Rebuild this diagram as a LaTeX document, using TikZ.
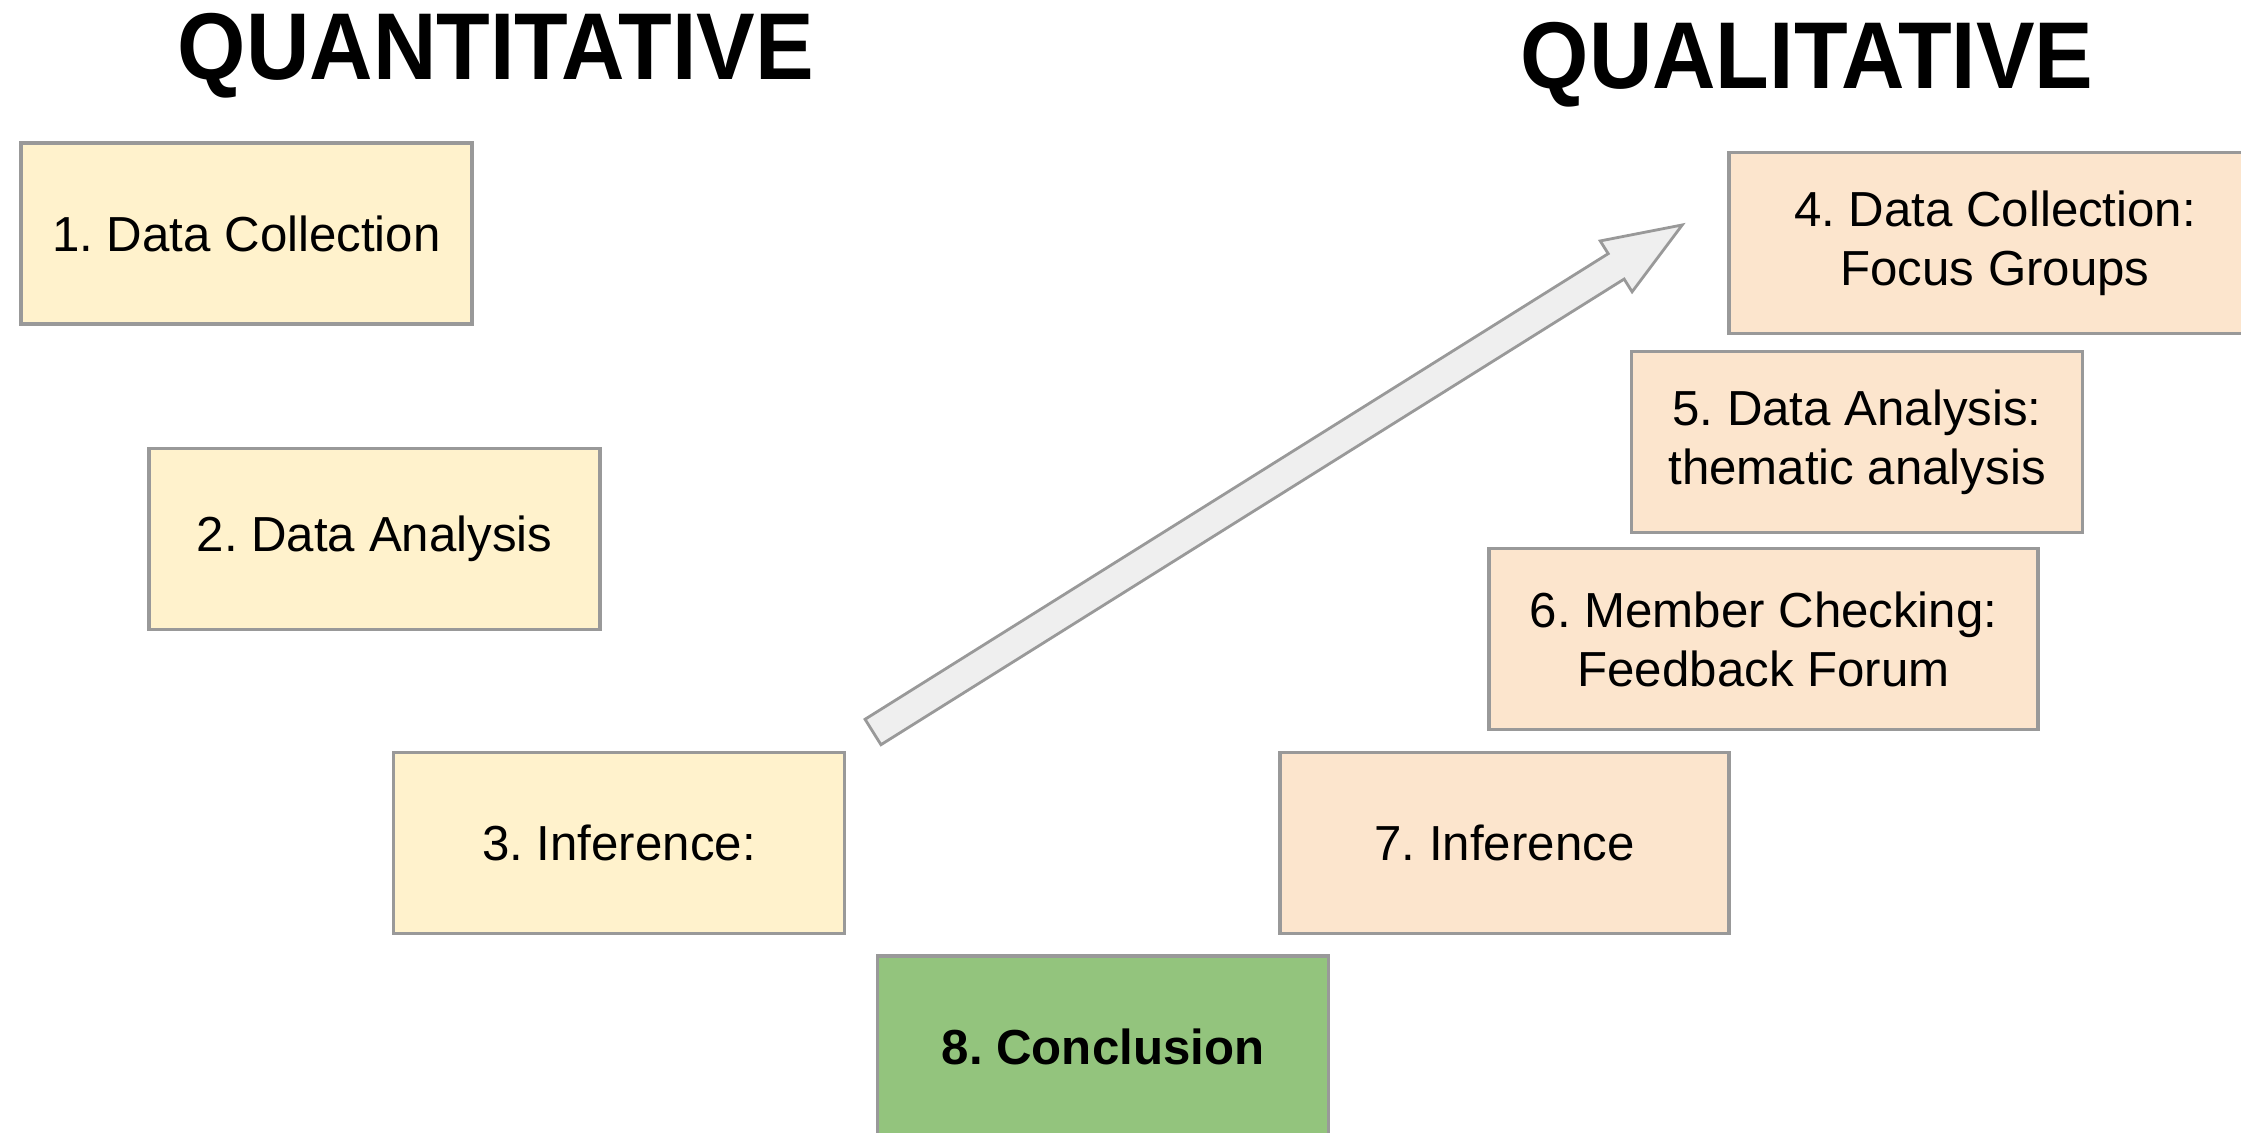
\documentclass[tikz,border=0pt]{standalone}
\usepackage{fontspec}
\setmainfont{Liberation Sans}
\usepackage{xcolor}
\usetikzlibrary{positioning, calc}
\frenchspacing

\definecolor{quantfill}{HTML}{FFF2CC}
\definecolor{qualfill}{HTML}{FCE5CD}
\definecolor{endfill}{HTML}{93C47D}
\definecolor{boxline}{HTML}{999999}
\definecolor{arrowfill}{HTML}{EFEFEF}

\begin{document}
\begin{tikzpicture}[
    stage/.style={draw=boxline, line width=0.9pt, minimum width=4.51cm,
                  minimum height=1.81cm, align=center, inner sep=0pt,
                  font=\fontsize{14}{16.8}\selectfont},
    quant/.style={stage, fill=quantfill},
    qual/.style={stage, fill=qualfill},
    heading/.style={font=\fontsize{25}{30}\selectfont\bfseries, anchor=base,
                    inner sep=0pt, yscale=1.08}
]
  \useasboundingbox (0,0) rectangle (22.41,11.32);
  \clip (0,0) rectangle (22.41,11.32);

  % column headings
  \node[heading] (quanttitle) at (4.96, 10.52) {QUANTITATIVE};
  \node[heading] (qualtitle)  at (18.07, 10.43) {QUALITATIVE};

  % quantitative steps, stepping down to the right
  \foreach \t/\x/\y [count=\i] in {1. Data Collection/2.465/8.985,
                                   2. Data Analysis/3.745/5.93,
                                   3. Inference:/6.19/2.89} {
    \node[quant] (quant\i) at (\x, \y) {\t};
  }

  % qualitative steps
  \node[qual, minimum width=5.32cm] (qual4) at (19.95, 8.89)
       {4. Data Collection:\\Focus Groups};
  \node[qual] (qual5) at (18.57, 6.90)
       {5. Data Analysis:\\thematic analysis};
  \node[qual, minimum width=5.49cm] (qual6) at (17.635, 4.93)
       {6. Member Checking:\\Feedback Forum};
  \node[qual, minimum width=4.49cm] (qual7) at (15.045, 2.89) {7. Inference};

  \node[stage, fill=endfill, font=\fontsize{14}{16.8}\selectfont\bfseries]
       (concl) at (11.03, 0.855) {8. Conclusion};

  % block arrow from quantitative to qualitative
  \coordinate (tail) at (8.73, 4.00);
  \coordinate (tip) at (16.82, 9.07);
  \begin{scope}[shift={(tail)}, rotate=32.07]
    \draw[draw=boxline, fill=arrowfill, line width=0.8pt, line join=miter]
      (0,-0.15) -- (8.77,-0.15) -- (8.77,-0.3) -- (9.55,0)
      -- (8.77,0.3) -- (8.77,0.15) -- (0,0.15) -- cycle;
  \end{scope}
\end{tikzpicture}
\end{document}
